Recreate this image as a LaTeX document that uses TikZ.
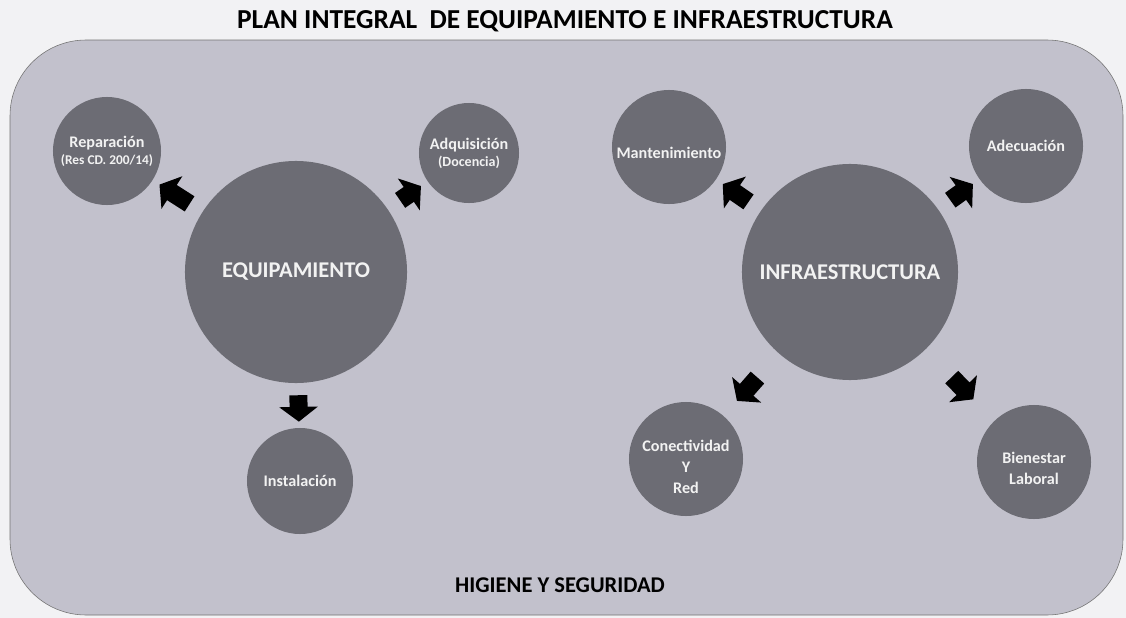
\documentclass[tikz,border=0pt]{standalone}
\usepackage{fontspec}
\setmainfont{Carlito}
\usepackage{tikz}
\usepackage{xcolor}
\usetikzlibrary{positioning}
\usetikzlibrary{arrows.meta}
\definecolor{pagegray}{RGB}{242,242,244}
\definecolor{panelgray}{RGB}{194,193,204}
\definecolor{bubblegray}{RGB}{108,108,116}
\definecolor{bubbletext}{RGB}{242,242,242}

\begin{document}
\begin{tikzpicture}[x=0.025cm, y=-0.025cm,
    bubble/.style={circle, fill=bubblegray, text=bubbletext, align=center, inner sep=0pt, font=\bfseries\fontsize{11.5}{15}\selectfont},
    bigbubble/.style={bubble, minimum size=5.55cm, font=\bfseries\fontsize{16}{19}\selectfont},
    blockarrow/.style={line width=12.8pt, black, -{Triangle[length=10.5pt,width=27pt]}, shorten <=10.7pt, shorten >=5.7pt}]
      \fill[pagegray] (0,0) rectangle (1126,618);
      \useasboundingbox (0,0) rectangle (1126,618);
      \draw[fill=panelgray, draw=black!55, rounded corners=1.9cm] (10,40) rectangle (1123,615);
      \node [font=\bfseries\fontsize{19.5}{22}\selectfont] (titulo) at (565,21) {PLAN INTEGRAL\ \ DE EQUIPAMIENTO E INFRAESTRUCTURA};
      \node [font=\bfseries\fontsize{16}{19}\selectfont] (higiene) at (560,585) {HIGIENE Y SEGURIDAD};
      \node [bigbubble] (equip) at (296,272) {EQUIPAMIENTO};
      \node [bigbubble, minimum size=5.4cm] (infra) at (850,272) {INFRAESTRUCTURA};
      \node [bubble, minimum size=2.7cm] (repar) at (107,151) {Reparación\\[-3pt]{\fontsize{9.5}{11}\selectfont(Res CD. 200/14)}};
      \node [bubble, minimum size=2.5cm] (adqui) at (469,153) {Adquisición\\[-3pt]{\fontsize{10}{11}\selectfont(Docencia)}};
      \node [bubble, minimum size=2.65cm] (insta) at (300,481) {Instalación};
      \node [bubble, minimum size=2.85cm] (mante) at (669,147) {\raisebox{-8pt}[0pt][0pt]{Mantenimiento}};
      \node [bubble, minimum size=2.85cm] (adecu) at (1026,146) {Adecuación};
      \node [bubble, minimum size=2.85cm] (conec) at (686,459) {\raisebox{-8.7pt}[0pt][0pt]{\parbox{2.5cm}{\centering Conectividad\\Y\\Red}}};
      \node [bubble, minimum size=2.85cm] (biene) at (1034,462) {\raisebox{-7.3pt}[0pt][0pt]{\parbox{2.5cm}{\centering Bienestar\\Laboral}}};
      \draw[blockarrow] (equip) -- (repar);
      \draw[blockarrow] (equip) -- (adqui);
      \draw[blockarrow, shorten <=8.5pt, shorten >=4.3pt] (equip) -- (insta);
      \draw[blockarrow] (infra) -- (mante);
      \draw[blockarrow] (infra) -- (adecu);
      \draw[blockarrow, shorten <=22.8pt, shorten >=14.2pt] (infra) -- (conec);
      \draw[blockarrow, shorten <=27pt, shorten >=21.3pt] (infra) -- (biene);
    \end{tikzpicture}
\end{document}
